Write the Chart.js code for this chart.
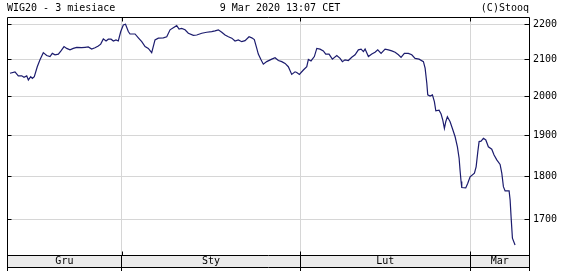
<!DOCTYPE html>
<html>
<head>
<meta charset="utf-8">
<script src="https://cdn.jsdelivr.net/npm/chart.js@4"></script>
<style>
  html, body { margin: 0; padding: 0; background: #fff; }
  #wrap { width: 565px; height: 271px; }
</style>
</head>
<body>
<div id="wrap"><canvas id="wig" width="565" height="271"></canvas></div>
<script>
// header texts
const title = 'WIG20 - 3 miesiace';
const stamp = '9 Mar 2020 13:07 CET';
const source = '(C)Stooq';

// x axis: trading sessions, months start at these session positions
const months = ['Gru', 'Sty', 'Lut', 'Mar'];
const monthStarts = [0, 13.5, 34.5, 54.5];
const sessionsEnd = 61.4;

// y axis (log scale)
const yTicks = [1700, 1800, 1900, 2000, 2100, 2200];
const yMin = 1621.6;
const yMax = 2221.3;

// WIG20: session position and index level
const session = [
  0.35, 0.94, 1.33, 1.73, 2.00, 2.32, 2.51, 2.79, 2.98, 3.21,
  3.56, 3.88, 4.27, 4.67, 5.06, 5.33, 5.65, 6.04, 6.35, 6.71,
  7.02, 7.41, 7.80, 8.20, 8.79, 9.18, 9.56, 9.96, 10.35, 10.74,
  11.02, 11.33, 11.65, 11.92, 12.24, 12.51, 12.82, 13.09, 13.38, 13.68,
  13.94, 14.27, 14.47, 15.06, 15.45, 15.85, 16.24, 16.62, 17.02, 17.41,
  17.80, 18.39, 18.79, 19.18, 19.56, 19.96, 20.24, 20.55, 20.94, 21.33,
  21.92, 22.32, 22.91, 23.49, 24.08, 24.47, 24.86, 25.26, 25.65, 26.04,
  26.44, 26.82, 27.21, 27.61, 28.00, 28.47, 28.79, 29.09, 29.38, 29.56,
  29.88, 30.15, 30.55, 31.14, 31.53, 31.92, 32.32, 32.71, 33.09, 33.49,
  33.88, 34.08, 34.39, 34.86, 35.26, 35.45, 35.76, 36.15, 36.44, 36.82,
  37.21, 37.49, 37.88, 38.27, 38.79, 39.18, 39.45, 39.76, 40.15, 40.55,
  40.94, 41.33, 41.65, 41.92, 42.12, 42.51, 42.91, 43.29, 43.61, 44.00,
  44.47, 44.86, 45.26, 45.65, 46.04, 46.35, 46.74, 47.21, 47.61, 48.00,
  48.47, 48.98, 49.18, 49.38, 49.49, 49.76, 50.04, 50.27, 50.44, 50.82,
  51.06, 51.26, 51.45, 51.61, 51.80, 52.12, 52.39, 52.71, 52.98, 53.18,
  53.29, 53.41, 53.49, 53.96, 54.20, 54.47, 54.98, 55.18, 55.38, 55.53,
  55.76, 56.04, 56.32, 56.62, 57.02, 57.29, 57.61, 58.00, 58.20, 58.39,
  58.59, 59.06, 59.18, 59.29, 59.45, 59.76
];
const wig20 = [
  2062, 2066, 2055, 2055, 2051, 2055, 2044, 2053, 2048, 2053,
  2080, 2099, 2119, 2111, 2108, 2117, 2113, 2115, 2124, 2136,
  2131, 2127, 2131, 2134, 2133, 2134, 2135, 2129, 2133, 2138,
  2143, 2158, 2152, 2157, 2157, 2152, 2155, 2152, 2179, 2198,
  2200, 2179, 2172, 2172, 2161, 2150, 2136, 2131, 2119, 2155,
  2160, 2161, 2164, 2184, 2190, 2196, 2186, 2188, 2184, 2174,
  2168, 2169, 2174, 2177, 2179, 2181, 2184, 2177, 2169, 2164,
  2160, 2152, 2155, 2150, 2153, 2164, 2161, 2156, 2131, 2115,
  2099, 2087, 2094, 2101, 2105, 2097, 2094, 2089, 2080, 2059,
  2066, 2064, 2059, 2071, 2080, 2100, 2096, 2108, 2131, 2129,
  2124, 2115, 2115, 2101, 2111, 2103, 2094, 2099, 2097, 2106,
  2113, 2127, 2129, 2122, 2129, 2108, 2115, 2120, 2127, 2117,
  2129, 2127, 2124, 2120, 2113, 2106, 2117, 2117, 2113, 2103,
  2101, 2094, 2076, 2035, 2004, 2001, 2004, 1986, 1962, 1964,
  1954, 1938, 1917, 1934, 1947, 1934, 1917, 1896, 1871, 1843,
  1814, 1787, 1773, 1772, 1783, 1798, 1807, 1822, 1859, 1884,
  1885, 1892, 1888, 1871, 1865, 1851, 1839, 1828, 1807, 1775,
  1765, 1765, 1744, 1706, 1658, 1643
];

const font = { family: "'DejaVu Sans Mono', monospace", size: 10 };
const gridGrey = '#d6d6d6';

const boundaries = monthStarts.slice(1);
const xTicks = [];
months.forEach((m, i) => {
  const end = i + 1 < monthStarts.length ? monthStarts[i + 1] : sessionsEnd;
  xTicks.push({ value: (monthStarts[i] + end) / 2, label: m });
});
boundaries.forEach(b => xTicks.push({ value: b, label: '' }));
xTicks.sort((a, b) => a.value - b.value);
const isBoundary = v => boundaries.includes(v);

const stooqFrame = {
  id: 'stooqFrame',
  beforeDraw(chart) {
    const { ctx, chartArea: a } = chart;
    ctx.save();
    ctx.fillStyle = '#ebebeb';
    ctx.fillRect(a.left, a.bottom, a.right - a.left, 12);
    ctx.restore();
  },
  afterDraw(chart) {
    const { ctx, chartArea: a, scales } = chart;
    const H = chart.height;
    ctx.save();
    ctx.strokeStyle = '#000';
    ctx.lineWidth = 1;
    ctx.beginPath();
    const L = a.left + 0.5, R = a.right + 0.5, T = a.top + 0.5, B = a.bottom + 0.5;
    // frame and band
    ctx.moveTo(L, T); ctx.lineTo(R, T);
    ctx.moveTo(L, T); ctx.lineTo(L, H);
    ctx.moveTo(R, T); ctx.lineTo(R, H);
    ctx.moveTo(L, B); ctx.lineTo(R, B);
    ctx.moveTo(L, B + 12); ctx.lineTo(R, B + 12);
    // inward ticks
    yTicks.forEach(v => {
      const y = Math.round(scales.y.getPixelForValue(v)) + 0.5;
      ctx.moveTo(L, y); ctx.lineTo(L + 4, y);
      ctx.moveTo(R, y); ctx.lineTo(R - 5, y);
    });
    boundaries.forEach(v => {
      const x = Math.round(scales.x.getPixelForValue(v)) + 0.5;
      ctx.moveTo(x, T); ctx.lineTo(x, T + 4);
      ctx.moveTo(x, B); ctx.lineTo(x, B - 4);
    });
    ctx.stroke();

    ctx.fillStyle = '#000';
    ctx.font = `${font.size}px ${font.family}`;
    ctx.textBaseline = 'middle';
    ctx.textAlign = 'left';
    ctx.fillText(title, a.left, 8);
    ctx.textAlign = 'center';
    ctx.fillText(stamp, (a.left + a.right) / 2 + 12, 8);
    ctx.textAlign = 'right';
    ctx.fillText(source, a.right, 8);
    ctx.restore();
  }
};

new Chart(document.getElementById('wig').getContext('2d'), {
  type: 'line',
  data: {
    datasets: [{
      label: 'WIG20',
      data: session.map((s, i) => ({ x: s, y: wig20[i] })),
      borderColor: '#1c1c6e',
      borderWidth: 1.2,
      pointRadius: 0,
      tension: 0,
      fill: false
    }]
  },
  options: {
    responsive: false,
    animation: false,
    devicePixelRatio: 1,
    layout: { padding: { left: 7, top: 17, right: 0, bottom: 0 } },
    plugins: {
      legend: { display: false },
      tooltip: { enabled: false },
      title: { display: false }
    },
    scales: {
      x: {
        type: 'linear',
        position: 'bottom',
        min: 0,
        max: sessionsEnd,
        afterBuildTicks: scale => { scale.ticks = xTicks.map(t => ({ value: t.value })); },
        afterFit: scale => { scale.height = 16; },
        ticks: {
          autoSkip: false,
          maxRotation: 0,
          padding: -16,
          color: '#000',
          font,
          callback: (v, i) => xTicks[i].label
        },
        grid: {
          color: c => (c.tick && isBoundary(c.tick.value)) ? gridGrey : 'rgba(0,0,0,0)',
          tickColor: c => (c.tick && isBoundary(c.tick.value)) ? '#000' : 'rgba(0,0,0,0)',
          tickLength: 16,
          lineWidth: 1
        },
        border: { display: false }
      },
      y: {
        type: 'logarithmic',
        position: 'right',
        min: yMin,
        max: yMax,
        afterBuildTicks: scale => { scale.ticks = yTicks.map(v => ({ value: v })); },
        afterFit: scale => { scale.width = 36; },
        ticks: {
          padding: 4,
          color: '#000',
          font,
          callback: v => String(v)
        },
        grid: { color: gridGrey, drawTicks: false, lineWidth: 1 },
        border: { display: false }
      }
    }
  },
  plugins: [stooqFrame]
});
</script>
</body>
</html>
